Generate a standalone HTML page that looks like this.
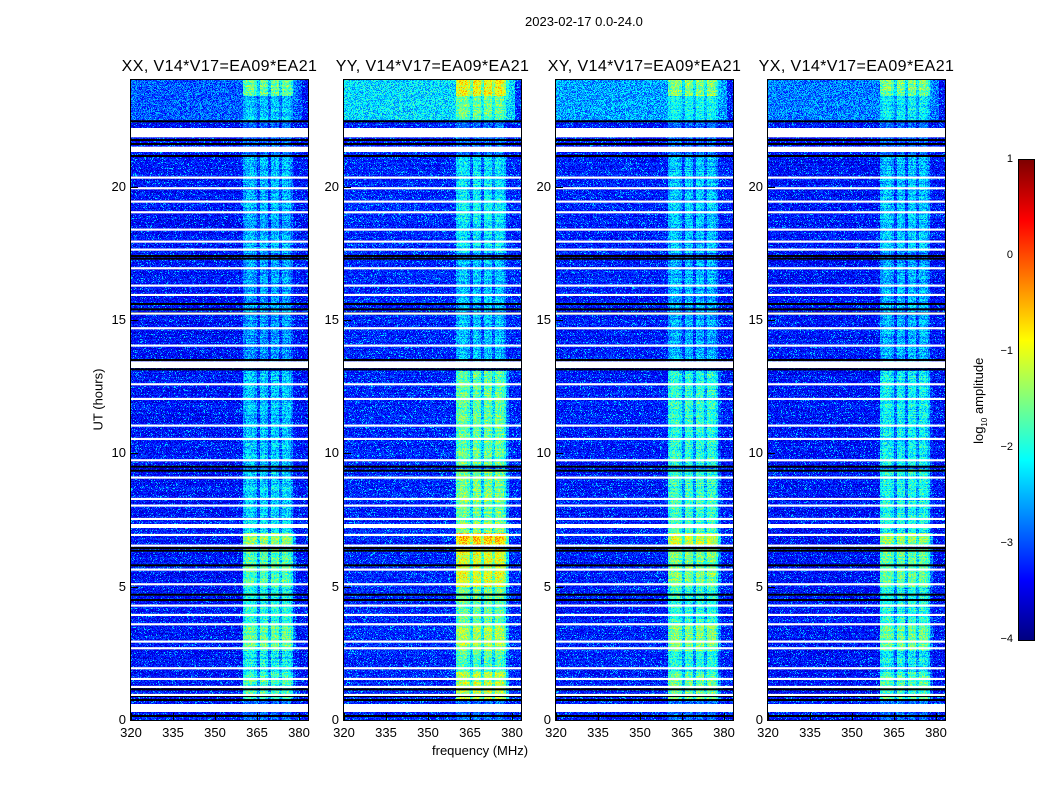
<!DOCTYPE html>
<html><head><meta charset="utf-8">
<style>
body{margin:0;background:#fff;width:1050px;height:800px;position:relative;overflow:hidden;font-family:"Liberation Sans",sans-serif;color:#000}
.t{position:absolute;white-space:nowrap}
canvas{position:absolute;image-rendering:pixelated}
.frame{position:absolute;border:1px solid #000;box-sizing:border-box}
</style></head><body>
<div class="t" style="left:525px;top:14px;font-size:13px">2023-02-17 0.0-24.0</div>
<div class="t" style="left:48px;top:392px;width:100px;text-align:center;font-size:13px;transform:rotate(-90deg)">UT (hours)</div>
<div class="t" style="left:432px;top:743px;font-size:13px">frequency (MHz)</div>
<div id="root"></div>
<canvas id="cb" width="15" height="480" style="left:1019px;top:160px;width:15px;height:480px"></canvas>
<div class="frame" style="left:1018px;top:159px;width:17px;height:482px"></div>
<div class="t" style="left:925px;top:392px;width:110px;text-align:center;font-size:13px;transform:rotate(-90deg)">log<sub style="font-size:8px">10</sub> amplitude</div>
<script>
const panelTitles=["XX, V14*V17=EA09*EA21","YY, V14*V17=EA09*EA21","XY, V14*V17=EA09*EA21","YX, V14*V17=EA09*EA21"];
const panelLeft=[131,344,556,768];
const xTicks=[320,335,350,365,380];
const yTicks=[0,5,10,15,20];
const cbTicks=[1,0,-1,-2,-3,-4];
// white (flagged) gaps, hours
const gapStart=[21.85,21.3,0.3,13.2,7.2,20.3,19.9,19.4,19.0,18.35,17.9,17.6,16.9,16.25,15.9,15.2,14.65,14.0,12.55,12.0,11.0,10.5,9.7,9.05,8.25,8.0,7.5,6.9,6.5,5.6,5.05,4.25,3.9,3.55,2.9,2.65,1.9,1.5,1.2,0.9];
const gapEnd=[22.2,21.5,0.6,13.45,7.35,20.38,19.98,19.48,19.08,18.43,17.98,17.68,16.98,16.33,15.98,15.28,14.73,14.08,12.63,12.08,11.08,10.58,9.78,9.13,8.33,8.08,7.58,6.98,6.58,5.68,5.13,4.33,3.98,3.63,2.98,2.73,1.98,1.58,1.28,0.98];
const blackLines=[22.45,21.75,21.6,21.15,17.4,17.3,15.6,15.4,15.25,13.5,13.15,9.5,9.35,6.45,6.35,5.8,4.7,4.5,1.15,0.9,0.75,0.15];
// RFI band time segments (hours) and log level per polarisation
const segStart=[23.4,22.5,17.5,15.2,13.2,9.5,7.0,6.55,5.0,3.6,2.6,1.8,0.8];
const segEnd=[24.0,23.4,21.1,15.7,17.3,13.1,9.4,7.0,6.4,5.0,3.6,2.6,1.8];
const levelXX=[-1.6,-2.4,-2.5,-2.1,-2.6,-2.4,-2.3,-1.4,-1.7,-2.0,-1.6,-2.1,-1.8];
const levelYY=[-0.9,-1.6,-2.2,-1.9,-2.4,-1.6,-1.5,-0.6,-1.0,-1.6,-1.3,-1.7,-1.2];
const levelXY=[-1.4,-2.1,-2.4,-2.1,-2.5,-1.9,-1.8,-1.2,-1.5,-1.9,-1.5,-2.0,-1.6];
const levelYX=[-1.5,-2.2,-2.4,-2.1,-2.5,-2.1,-2.0,-1.3,-1.6,-2.0,-1.6,-2.1,-1.7];
// frequency profile of the band (MHz channel, offset)
const bandFreq=[360,361,362,363,364,365,366,367,368,369,370,371,372,373,374,375,376,377,378];
const bandOffset=[-0.2,0,0,0,-0.2,-0.8,0,0,-0.1,-0.8,0,-0.05,0,-0.6,0,0,-0.1,-0.4,-1.2];
const topLevel=[-3.0,-2.3,-2.6,-2.8]; // wideband noise above 22.5 h, per polarisation
const levels=[levelXX,levelYY,levelXY,levelYX];
const bgLevel=[-3.3,-3.2,-3.25,-3.3];

const f0=320,f1=383.2,W=177,H=640;
const xs=f=>(f-f0)/(f1-f0)*W, ys=h=>(24-h)/24*H;
function jet(v){let t=(v+4)/5;t=Math.max(0,Math.min(1,t));
 const c=x=>Math.max(0,Math.min(1,x));
 return [c(1.5-Math.abs(4*t-3))*255,c(1.5-Math.abs(4*t-2))*255,c(1.5-Math.abs(4*t-1))*255];}
function hash(a,b){let n=(a*374761393+b*668265263)|0;n=(n^(n>>>13))*1274126177|0;return ((n^(n>>>16))>>>0)/4294967296;}
const root=document.getElementById('root');
function add(html){root.insertAdjacentHTML('beforeend',html);}
panelTitles.forEach((title,p)=>{
 const L=panelLeft[p];
 add(`<div class="t" style="left:${L-30}px;top:58px;width:237px;text-align:center;font-size:16px;letter-spacing:0.4px">${title}</div>`);
 const cv=document.createElement('canvas');cv.width=W;cv.height=H;
 cv.style.cssText=`left:${L}px;top:80px;width:${W}px;height:${H}px`;
 
 
 root.appendChild(cv);
 const ctx=cv.getContext('2d'),img=ctx.createImageData(W,H),d=img.data;
 const lv=levels[p];
 for(let y=0;y<H;y++){
  const h=24-(y+0.5)/H*24;
  let seg=-1;for(let s=0;s<segStart.length;s++)if(h>=segStart[s]&&h<segEnd[s])seg=s;
  const rowMod=(hash(y,p+7)-0.5)*0.4;
  for(let x=0;x<W;x++){
   const f=f0+(x+0.5)/W*(f1-f0);
   const r=hash(x*31+p,y);
   let v=bgLevel[p]+rowMod*0.6+(r-0.5)*0.8+(r>0.93?0.5:0);
   if(h>22.5&&f<381){v=Math.max(v,topLevel[p]+(hash(x,y+99)-0.5)*1.1);}
   const fi=Math.floor(f)-bandFreq[0];
   if(seg>=0){
    if(fi>=0&&fi<bandFreq.length){const bv=lv[seg]+bandOffset[fi]+rowMod+(hash(x,y*3+p)-0.5)*0.9;v=Math.max(v,bv);}}
   else{
    if(fi>=0&&fi<bandFreq.length-1&&bandOffset[fi]>-0.3){v=Math.max(v,-2.9+(hash(x,y)-0.5)*0.8);}}
   const c=jet(v),i=(y*W+x)*4;d[i]=c[0];d[i+1]=c[1];d[i+2]=c[2];d[i+3]=255;
  }}
 ctx.putImageData(img,0,0);
 ctx.fillStyle='#000';
 blackLines.forEach(b=>{ctx.fillRect(0,ys(b)-1,W,2);});
 ctx.fillStyle='#fff';
 gapStart.forEach((s,k)=>{const y0=ys(gapEnd[k]),y1=ys(s);ctx.fillRect(0,y0,W,Math.max(1.5,y1-y0));});
 add(`<div class="frame" style="left:${L-1}px;top:79px;width:${W+2}px;height:${H+2}px"></div>`);
 xTicks.forEach(t=>{const x=L+xs(t);
  add(`<div style="position:absolute;left:${x}px;top:713px;width:1px;height:7px;background:#000"></div>`);
  add(`<div class="t" style="left:${x-15}px;top:725px;width:30px;text-align:center;font-size:13px">${t}</div>`);});
 yTicks.forEach(t=>{const y=80+ys(t);
  add(`<div style="position:absolute;left:${L}px;top:${y}px;width:7px;height:1px;background:#000"></div>`);
  add(`<div class="t" style="left:${L-40}px;top:${y-8}px;width:35px;text-align:right;font-size:13px">${t}</div>`);});
});
const cb=document.getElementById('cb').getContext('2d');
for(let y=0;y<480;y++){const c=jet(1-y/480*5);cb.fillStyle=`rgb(${c[0]|0},${c[1]|0},${c[2]|0})`;cb.fillRect(0,y,15,1);}
cbTicks.forEach(t=>{const y=160+(1-t)/5*480;
 add(`<div class="t" style="left:975px;top:${y-7}px;width:38px;text-align:right;font-size:11px">${t<0?'\u2212'+(-t):t}</div>`);
 add(`<div style="position:absolute;left:1019px;top:${y}px;width:4px;height:1px;background:#000"></div>`);});
</script>
</body></html>
